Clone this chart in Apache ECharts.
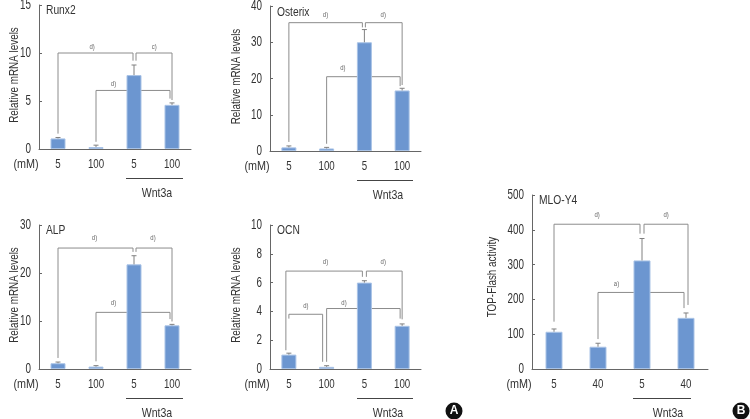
<!DOCTYPE html>
<html><head><meta charset="utf-8">
<style>html,body{margin:0;padding:0;background:#fff}#c{width:750px;height:419px}</style>
<script src="https://cdn.jsdelivr.net/npm/echarts@6/dist/echarts.min.js"></script>
</head><body><div id="c"></div>
<script>
const runxValues=[1.1,0.2,7.7,4.6], runxErrors=[0.1,0.2,1.05,0.2];
const osterixValues=[1,0.7,30,16.7], osterixErrors=[0.4,0.3,3.5,0.6];
const alpValues=[1.2,0.5,21.8,9.1], alpErrors=[0.25,0.2,1.8,0.2];
const ocnValues=[1.0,0.15,6,3], ocnErrors=[0.1,0.08,0.13,0.13];
const mloValues=[107,64,312,147], mloErrors=[8,10,63,14];
const doses=['5','100','5','100'], mloDoses=['5','40','5','40'];
const runxTicks=[0,5,10,15], osterixTicks=[0,10,20,30,40], alpTicks=[0,10,20,30], ocnTicks=[0,2,4,6,8,10], mloTicks=[0,100,200,300,400,500];
// [fromCat, dx, fromEnd, level, toCat, dx, toEnd, labelCat, labelValue, label]
const runxBrackets=[[0,0,1.6,10,2,-1,9.2,0.9,10.6,'d)'],[2,2,9.2,10,3,0,5.1,2.53,10.6,'c)'],[1,0,0.75,6.1,3,-2,5.25,1.46,6.8,'d)']];
const osterixBrackets=[[0,0,2.5,35.4,2,-2,34.1,0.97,37.4,'d)'],[2,1,34.1,35.4,3,0,18.2,2.5,37.4,'d)'],[1,0,2,20.5,3,-2,17.9,1.43,22.8,'d)']];
const alpBrackets=[[0,0,2.3,25.2,2,-1,24.4,0.96,27.2,'d)'],[2,2,24.4,25.2,3,0,9.9,2.5,27.2,'d)'],[1,0,1.6,11.8,3,-2,10.4,1.46,13.7,'d)']];
const ocnBrackets=[[0,-3,1.3,6.8,2,-2,6.4,0.97,7.4,'d)'],[2,2,6.4,6.8,3,0,3.45,2.5,7.4,'d)'],[0,0,3.5,3.8,1,-4,0.5,0.45,4.35,'d)'],[1,0,0.5,4.2,3,-2,3.5,1.46,4.55,'d)']];
const mloBrackets=[[0,0,136,416,2,-2,389,0.98,441,'d)'],[2,2,389,416,3,2,184,2.55,441,'d)'],[1,0,86,220,3,-2,175,1.42,243,'a)']];

const panels=[
 {name:'Runx2',y:'Relative mRNA levels',v:runxValues,e:runxErrors,b:runxBrackets,c:doses,ticks:runxTicks,l:39,r:191,t:5,bt:149,gap:25,ny:75,bw:15,tx:46,ty:10,wl:87,wr:144,wt:118},
 {name:'Osterix',y:'Relative mRNA levels',v:osterixValues,e:osterixErrors,b:osterixBrackets,c:doses,ticks:osterixTicks,l:270,r:421,t:6,bt:151,gap:34,ny:76.5,bw:15,tx:277,ty:12,wl:87,wr:143,wt:118},
 {name:'ALP',y:'Relative mRNA levels',v:alpValues,e:alpErrors,b:alpBrackets,c:doses,ticks:alpTicks,l:39,r:191,t:225,bt:369,gap:25,ny:295,bw:15,tx:46,ty:230,wl:87,wr:144,wt:118},
 {name:'OCN',y:'Relative mRNA levels',v:ocnValues,e:ocnErrors,b:ocnBrackets,c:doses,ticks:ocnTicks,l:270,r:421,t:225,bt:369,gap:34,ny:295,bw:15,tx:277,ty:230,wl:87,wr:143,wt:118},
 {name:'MLO-Y4',y:'TOP-Flash activity',v:mloValues,e:mloErrors,b:mloBrackets,c:mloDoses,ticks:mloTicks,l:532,r:708,t:195,bt:369,gap:40,ny:277,bw:17,tx:539,ty:200,wl:101,wr:159,wt:136}
];
const FONT='"Liberation Sans",sans-serif', TXT='#333', AX='#666', BR='#8c8c8c';
const grid=[],xAxis=[],yAxis=[],series=[],graphic=[];
panels.forEach((p,i)=>{
  const ticks=p.ticks, top=ticks[ticks.length-1];
  grid.push({left:p.l,width:p.r-p.l,top:p.t,height:p.bt-p.t,containLabel:false});
  xAxis.push({type:'category',gridIndex:i,data:p.c,axisLine:{lineStyle:{color:AX,width:1}},
    axisTick:{inside:true,length:3,lineStyle:{color:AX}},axisLabel:{show:false}});
  yAxis.push({type:'value',gridIndex:i,min:0,max:top,interval:ticks[1],splitLine:{show:false},
    axisLine:{show:true,lineStyle:{color:AX,width:1}},axisTick:{show:true,inside:true,length:3,lineStyle:{color:AX}},
    axisLabel:{show:false}});
  series.push({type:'custom',xAxisIndex:i,yAxisIndex:i,z:1,silent:true,clip:false,
    data:p.b.map((_,k)=>[k,0]),
    renderItem:(params,api)=>{
      const b=p.b[api.value(0)];
      const A=api.coord([b[0],b[3]]),A0=api.coord([b[0],b[2]]),B=api.coord([b[4],b[3]]),B0=api.coord([b[4],b[6]]);
      const x1=A[0]+b[1],x2=B[0]+b[5],step=api.size([1,0])[0];
      const L=api.coord([0,b[8]]);
      return {type:'group',children:[
        {type:'polyline',shape:{points:[[x1,A0[1]],[x1,A[1]],[x2,A[1]],[x2,B0[1]]]},style:{fill:null,stroke:BR,lineWidth:1}},
        {type:'text',x:L[0]+b[7]*step,y:L[1],scaleX:0.85,style:{x:0,y:0,text:b[9],fill:'#666',font:'7px '+FONT,textAlign:'center',textVerticalAlign:'middle'}}
      ]};
    }});
  series.push({type:'bar',xAxisIndex:i,yAxisIndex:i,z:2,barWidth:p.bw,data:p.v,silent:true,
    itemStyle:{color:'#6c96d0',borderColor:'#a9c3e6',borderWidth:1}});
  series.push({type:'custom',xAxisIndex:i,yAxisIndex:i,z:3,silent:true,
    data:p.v.map((v,k)=>[k,v,v+p.e[k]]),
    renderItem:(params,api)=>{
      const a=api.coord([api.value(0),api.value(1)]),b=api.coord([api.value(0),api.value(2)]);
      return {type:'group',children:[
        {type:'line',shape:{x1:a[0],y1:a[1],x2:a[0],y2:b[1]},style:{stroke:'#808080',lineWidth:1}},
        {type:'line',shape:{x1:a[0]-2.5,y1:b[1],x2:a[0]+2.5,y2:b[1]},style:{stroke:'#808080',lineWidth:1}}
      ]};
    }});
  series.push({type:'custom',xAxisIndex:i,yAxisIndex:i,z:4,silent:true,clip:false,
    data:p.c.map((c,k)=>[k,0]),
    renderItem:(params,api)=>{
      const k=api.value(0),a=api.coord([k,0]);
      return {type:'text',x:a[0],y:a[1]+15,scaleX:0.72,style:{x:0,y:0,text:p.c[k],fill:TXT,font:'13.5px '+FONT,textAlign:'center',textVerticalAlign:'middle'}};
    }});
  series.push({type:'custom',xAxisIndex:i,yAxisIndex:i,z:4,silent:true,clip:false,
    data:ticks.map(t=>[0,t]),
    renderItem:(params,api)=>{
      const t=api.value(1),a=api.coord([0,t]);
      return {type:'text',x:p.l-8,y:a[1],scaleX:0.68,style:{x:0,y:0,text:String(t),fill:TXT,font:'14.5px '+FONT,textAlign:'right',textVerticalAlign:'middle'}};
    }});
  const text=(x,y,t,size,align,sx,rot)=>graphic.push({type:'text',x,y,scaleX:sx,rotation:rot||0,style:{text:t,fill:TXT,font:size+'px '+FONT,textAlign:align,textVerticalAlign:'middle'}});
  text(p.tx,p.ty,p.name,13.5,'left',0.76);
  text(p.l-13,p.bt+15,'(mM)',13.5,'center',0.8);
  text(p.l-p.gap,p.ny,p.y,13,'center',0.76,Math.PI/2);
  graphic.push({type:'line',shape:{x1:p.l+p.wl,y1:p.bt+29.5,x2:p.l+p.wr,y2:p.bt+29.5},style:{stroke:'#444',lineWidth:1}});
  text(p.l+p.wt,p.bt+44,'Wnt3a',13.5,'center',0.78);
});
[['A',454,411],['B',741,411]].forEach(([t,x,y])=>{
  graphic.push({type:'circle',shape:{cx:x,cy:y,r:8.5},style:{fill:'#111'}});
  graphic.push({type:'text',x,y,style:{text:t,fill:'#fff',font:'bold 12px "Liberation Sans",sans-serif',textAlign:'center',textVerticalAlign:'middle'}});
});
const chart=echarts.init(document.getElementById('c'),null,{renderer:'canvas'});
chart.setOption({animation:false,backgroundColor:'#fff',grid,xAxis,yAxis,series,graphic:{elements:graphic}});
</script></body></html>
